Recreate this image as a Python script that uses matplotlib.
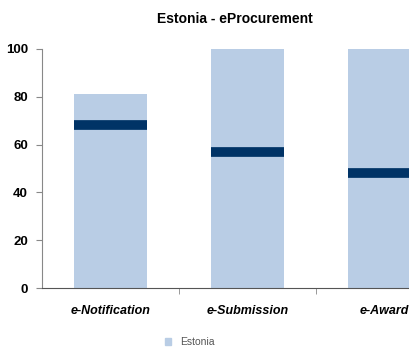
import matplotlib
matplotlib.use("Agg")
import matplotlib.pyplot as plt
from matplotlib.patches import Patch

# eProcurement indicators for Estonia
categories = ["e-Notification", "e-Submission", "e-Award"]
estonia = [81, 100, 100]
eu_average = [68, 57, 48]

plt.rcParams['font.family'] = ['Liberation Sans', 'DejaVu Sans']

fig = plt.figure(figsize=(4.1, 3.5), dpi=100)
ax = fig.add_axes([0.1024, 0.177, 1.003, 0.683])

x = range(len(categories))
bw = 0.53
ax.bar(x, estonia, width=bw, color="#b9cde5", zorder=1)
for xi, v in zip(x, eu_average):
    ax.hlines(v, xi - bw / 2, xi + bw / 2, color="#003366", lw=7, zorder=2)

ax.set_xlim(-0.5, len(categories) - 0.5)
ax.set_ylim(0, 100)
ax.set_yticks(range(0, 101, 20))
ax.set_yticklabels([str(v) for v in range(0, 101, 20)], fontsize=9.5, fontweight="bold")
ax.set_xticks(list(x))
ax.set_xticklabels(categories, fontsize=9, fontweight="bold", fontstyle="italic")
ax.tick_params(axis="x", length=0, pad=12)
ax.set_xticks([0.5, 1.5], minor=True)
ax.tick_params(axis="x", which="minor", length=4, color="#888888", direction="out")
ax.tick_params(axis="y", length=4, color="#888888", pad=6)

for s in ["top", "right"]:
    ax.spines[s].set_visible(False)
ax.spines["left"].set_color("#888888")
ax.spines["bottom"].set_color("#555555")

fig.text(0.573, 0.945, "Estonia - eProcurement", ha="center", va="center",
         fontsize=10, fontweight="bold")

fig.legend(handles=[Patch(color="#b9cde5", label="Estonia")], loc="center left",
           bbox_to_anchor=(0.38, 0.022), frameon=False, fontsize=7.5,
           labelcolor="#555555", handlelength=0.6, handleheight=0.6, handletextpad=0.8)

fig.savefig("out.png", dpi=100)
